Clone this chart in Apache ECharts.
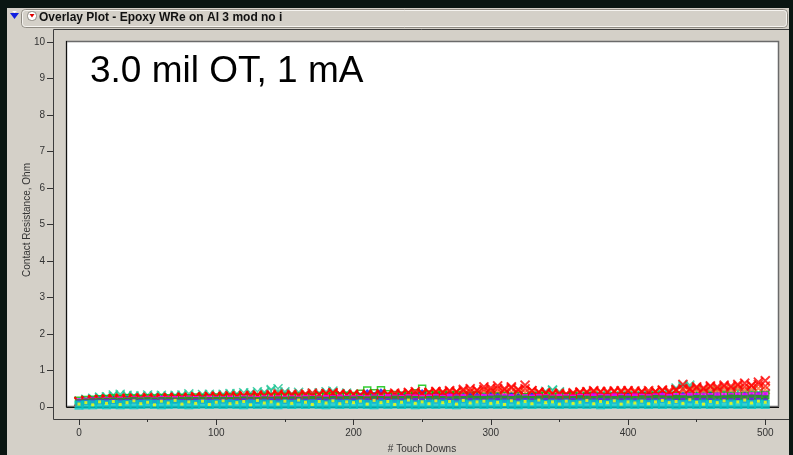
<!DOCTYPE html>
<html>
<head>
<meta charset="utf-8">
<script src="https://cdn.jsdelivr.net/npm/echarts@6/dist/echarts.min.js"></script>
<style>
html,body{margin:0;padding:0;background:#0a1612;}
#chart{width:793px;height:455px;}
</style>
</head>
<body>
<div id="chart"></div>
<script>
// ---- data (Ohm), one value every 5 touch downs, 0..500 ----
const touchDownStep = 5;
const xTickValues = [0, 100, 200, 300, 400, 500];
const xMinorTickValues = [50, 150, 250, 350, 450];
const xTickLabels = ['0', '100', '200', '300', '400', '500'];
const yTickLabels = ['0','1','2','3','4','5','6','7','8','9','10'];

const tealY = [0.15,0.20,0.22,0.25,0.28,
 0.33,0.30,0.32,0.28,0.30,0.27,0.31,0.26,
 0.30,0.28,0.33,0.30,0.27,0.34,0.31,0.29,
 0.35,0.32,0.36,0.30,0.38,0.33,0.40,0.45,0.50,0.42,
 0.36,0.33,0.30,0.38,0.35,0.42,0.40,0.37,0.33,0.35,
 0.30,0.33,0.28,0.35,0.30,0.27,0.32,0.30,0.28,0.31,
 0.30,0.26,0.33,0.28,0.30,0.27,0.31,0.29,0.26,0.30,
 0.28,0.31,0.27,0.30,0.26,0.29,0.33,0.38,0.45,0.42,
 0.35,0.28,0.25,0.30,0.27,0.32,0.29,0.26,0.30,0.28,
 0.31,0.27,0.30,0.35,0.33,0.40,0.48,0.58,0.55,0.45,
 0.42,0.38,0.45,0.40,0.36,0.43,0.38,0.41,0.37,0.35];

const tealY2 = [0.16,0.21,0.24,0.27,0.25,
 0.29,0.35,0.27,0.31,0.26,0.33,0.29,0.32,
 0.27,0.32,0.29,0.36,0.31,0.28,0.35,0.33,
 0.30,0.37,0.34,0.39,0.33,0.42,0.36,0.48,0.41,0.38,
 0.34,0.40,0.36,0.32,0.39,0.37,0.44,0.35,0.38,0.31,
 0.34,0.29,0.36,0.31,0.33,0.29,0.34,0.31,0.27,0.32,
 0.28,0.31,0.27,0.32,0.29,0.26,0.30,0.27,0.31,0.28,
 0.30,0.27,0.29,0.26,0.31,0.28,0.36,0.43,0.47,0.39,
 0.32,0.29,0.27,0.31,0.28,0.30,0.27,0.31,0.29,0.32,
 0.29,0.32,0.28,0.31,0.36,0.38,0.52,0.55,0.60,0.50,
 0.44,0.40,0.47,0.42,0.39,0.45,0.40,0.43,0.39,0.37];

const orangeX = [0.14,0.17,0.19,0.20,0.21,
 0.22,0.24,0.21,0.23,0.25,0.22,0.24,0.23,
 0.25,0.23,0.26,0.24,0.27,0.25,0.26,0.28,
 0.27,0.29,0.26,0.28,0.30,0.27,0.29,0.31,0.28,0.30,
 0.29,0.31,0.28,0.30,0.32,0.29,0.31,0.30,0.33,0.31,
 0.30,0.32,0.34,0.31,0.35,0.33,0.36,0.34,0.37,0.35,
 0.38,0.36,0.40,0.37,0.42,0.39,0.41,0.38,0.43,0.40,
 0.42,0.39,0.41,0.38,0.40,0.36,0.38,0.35,0.37,0.34,
 0.36,0.33,0.38,0.40,0.37,0.41,0.39,0.42,0.40,0.38,
 0.41,0.39,0.42,0.40,0.44,0.41,0.43,0.45,0.42,0.46,
 0.44,0.47,0.45,0.48,0.46,0.50,0.47,0.49,0.51,0.48];

const greenSquares = [0.17,0.19,0.20,0.21,0.22,
 0.23,0.22,0.24,0.23,0.22,0.24,0.23,0.25,
 0.24,0.23,0.25,0.24,0.26,0.25,0.24,0.26,
 0.25,0.27,0.26,0.25,0.27,0.26,0.28,0.27,0.26,0.28,
 0.27,0.29,0.28,0.27,0.29,0.28,0.30,0.29,0.31,0.30,
 0.36,0.45,0.38,0.46,0.35,0.33,0.31,0.32,0.38,0.50,
 0.34,0.31,0.33,0.30,0.32,0.29,0.31,0.30,0.28,0.30,
 0.29,0.31,0.28,0.30,0.27,0.29,0.28,0.30,0.27,0.29,
 0.28,0.30,0.27,0.29,0.28,0.26,0.28,0.27,0.29,0.28,
 0.27,0.29,0.28,0.30,0.27,0.29,0.31,0.28,0.30,0.29,
 0.28,0.30,0.29,0.31,0.28,0.30,0.29,0.31,0.30,0.32];

const blueDiamonds = [0.16,0.18,0.19,0.20,0.20,
 0.21,0.20,0.22,0.21,0.20,0.22,0.21,0.23,
 0.22,0.21,0.23,0.22,0.24,0.23,0.22,0.24,
 0.23,0.25,0.24,0.23,0.25,0.24,0.26,0.25,0.24,0.26,
 0.25,0.27,0.26,0.25,0.27,0.26,0.28,0.27,0.29,0.28,
 0.30,0.40,0.32,0.42,0.31,0.30,0.33,0.31,0.35,0.40,
 0.32,0.35,0.30,0.33,0.31,0.29,0.32,0.30,0.28,0.31,
 0.30,0.28,0.31,0.29,0.27,0.30,0.28,0.31,0.29,0.27,
 0.30,0.28,0.33,0.35,0.32,0.30,0.28,0.31,0.29,0.30,
 0.35,0.37,0.32,0.30,0.33,0.31,0.29,0.32,0.30,0.31,
 0.29,0.32,0.30,0.28,0.31,0.29,0.32,0.30,0.33,0.31];

const redX = [0.15,0.18,0.20,0.20,0.22,
 0.22,0.21,0.23,0.22,0.24,0.23,0.22,0.25,
 0.24,0.26,0.25,0.24,0.27,0.26,0.28,0.27,
 0.28,0.27,0.29,0.30,0.28,0.31,0.30,0.32,0.33,0.31,
 0.32,0.30,0.33,0.31,0.34,0.36,0.38,0.35,0.33,0.34,
 0.32,0.35,0.33,0.36,0.34,0.38,0.36,0.40,0.42,0.38,
 0.40,0.43,0.41,0.45,0.42,0.48,0.50,0.46,0.55,0.52,
 0.58,0.50,0.55,0.48,0.60,0.45,0.40,0.38,0.36,0.35,
 0.33,0.37,0.40,0.42,0.45,0.43,0.40,0.44,0.42,0.45,
 0.40,0.43,0.38,0.42,0.45,0.40,0.48,0.62,0.50,0.55,
 0.52,0.58,0.55,0.60,0.57,0.62,0.65,0.58,0.68,0.72];

const redX2 = [0.14,0.17,0.19,0.21,0.20,
 0.23,0.24,0.22,0.25,0.23,0.26,0.24,0.23,
 0.26,0.25,0.27,0.26,0.28,0.27,0.29,0.30,
 0.29,0.31,0.30,0.32,0.31,0.33,0.32,0.34,0.36,0.33,
 0.35,0.34,0.36,0.38,0.35,0.37,0.39,0.36,0.34,0.35,
 0.33,0.31,0.34,0.32,0.35,0.33,0.36,0.38,0.35,0.37,
 0.39,0.41,0.38,0.42,0.40,0.44,0.42,0.45,0.48,0.46,
 0.50,0.47,0.52,0.46,0.50,0.44,0.41,0.39,0.37,0.38,
 0.36,0.39,0.41,0.38,0.42,0.40,0.43,0.41,0.45,0.43,
 0.44,0.41,0.45,0.43,0.47,0.44,0.46,0.50,0.47,0.52,
 0.49,0.55,0.51,0.56,0.53,0.58,0.55,0.60,0.62,0.57];

const magentaSq = [0.15,0.17,0.18,0.18,0.19,
 0.19,0.20,0.19,0.21,0.20,0.21,0.20,0.22,
 0.21,0.22,0.21,0.23,0.22,0.21,0.23,0.22,
 0.22,0.23,0.22,0.24,0.23,0.22,0.24,0.23,0.24,0.23,
 0.24,0.23,0.25,0.24,0.23,0.25,0.24,0.26,0.25,0.24,
 0.25,0.24,0.26,0.25,0.27,0.26,0.25,0.27,0.26,0.25,
 0.26,0.27,0.25,0.28,0.26,0.27,0.25,0.26,0.28,0.27,
 0.26,0.28,0.27,0.25,0.27,0.26,0.28,0.27,0.26,0.28,
 0.27,0.26,0.28,0.27,0.29,0.28,0.27,0.29,0.28,0.27,
 0.29,0.28,0.27,0.29,0.30,0.28,0.30,0.29,0.31,0.30,
 0.31,0.30,0.32,0.31,0.30,0.32,0.31,0.33,0.32,0.34];

const greenLine = [0.13,0.15,0.16,0.17,0.17,
 0.18,0.17,0.18,0.19,0.18,0.19,0.18,0.19,
 0.19,0.18,0.19,0.20,0.19,0.20,0.19,0.20,
 0.20,0.19,0.20,0.21,0.20,0.19,0.21,0.20,0.21,0.20,
 0.21,0.20,0.21,0.22,0.21,0.20,0.22,0.21,0.22,0.21,
 0.22,0.21,0.23,0.22,0.21,0.23,0.22,0.23,0.22,0.21,
 0.22,0.23,0.22,0.21,0.23,0.22,0.24,0.23,0.22,0.23,
 0.24,0.23,0.22,0.24,0.23,0.22,0.23,0.24,0.23,0.22,
 0.23,0.22,0.24,0.23,0.22,0.24,0.23,0.22,0.24,0.23,
 0.22,0.24,0.23,0.25,0.24,0.23,0.25,0.24,0.23,0.25,
 0.24,0.25,0.23,0.24,0.26,0.25,0.24,0.26,0.25,0.24];

const purpleSq = [0.12,0.13,0.14,0.14,0.15,
 0.15,0.14,0.15,0.16,0.15,0.14,0.15,0.16,
 0.15,0.16,0.15,0.14,0.16,0.15,0.16,0.15,
 0.16,0.15,0.16,0.17,0.16,0.15,0.16,0.17,0.16,0.15,
 0.16,0.17,0.16,0.15,0.17,0.16,0.17,0.16,0.15,0.17,
 0.16,0.17,0.16,0.18,0.17,0.16,0.17,0.16,0.18,0.17,
 0.17,0.16,0.18,0.17,0.16,0.17,0.18,0.17,0.16,0.17,
 0.18,0.17,0.16,0.17,0.18,0.17,0.16,0.18,0.17,0.16,
 0.17,0.18,0.17,0.16,0.17,0.18,0.17,0.16,0.17,0.18,
 0.17,0.16,0.18,0.17,0.18,0.17,0.16,0.18,0.17,0.18,
 0.18,0.17,0.16,0.18,0.17,0.18,0.17,0.19,0.18,0.17];

const cyanSq = [0.05,0.06,0.06,0.07,0.06,
 0.07,0.06,0.07,0.06,0.07,0.08,0.07,0.06,
 0.07,0.08,0.07,0.06,0.07,0.08,0.07,0.08,
 0.07,0.08,0.07,0.06,0.08,0.07,0.08,0.07,0.06,0.08,
 0.07,0.08,0.07,0.08,0.07,0.06,0.08,0.07,0.08,0.07,
 0.08,0.07,0.06,0.08,0.07,0.08,0.07,0.08,0.06,0.07,
 0.08,0.07,0.08,0.07,0.06,0.08,0.07,0.08,0.07,0.08,
 0.07,0.08,0.07,0.06,0.08,0.07,0.08,0.07,0.08,0.07,
 0.08,0.07,0.08,0.07,0.08,0.06,0.07,0.08,0.07,0.08,
 0.07,0.08,0.07,0.08,0.07,0.08,0.06,0.07,0.08,0.07,
 0.08,0.07,0.08,0.07,0.08,0.07,0.08,0.07,0.08,0.07];

const yellowDots = [0.08,0.12,0.06,0.14,0.10,
 0.15,0.07,0.12,0.17,0.09,0.13,0.06,0.16,
 0.11,0.18,0.08,0.14,0.10,0.16,0.07,0.13,
 0.17,0.09,0.12,0.15,0.06,0.18,0.11,0.14,0.08,0.16,
 0.10,0.19,0.13,0.07,0.15,0.11,0.17,0.09,0.14,0.12,
 0.16,0.08,0.18,0.12,0.15,0.07,0.13,0.19,0.10,0.14,
 0.09,0.17,0.12,0.15,0.08,0.18,0.11,0.14,0.16,0.10,
 0.13,0.07,0.17,0.11,0.15,0.09,0.19,0.12,0.14,0.08,
 0.16,0.10,0.13,0.18,0.09,0.15,0.12,0.17,0.08,0.14,
 0.11,0.16,0.09,0.14,0.18,0.12,0.15,0.10,0.20,0.13,
 0.08,0.15,0.12,0.17,0.10,0.14,0.19,0.11,0.16,0.13];

// ---- build ----
function pairs(vals){ return vals.map((v,i)=>[i*touchDownStep, v]); }

const X_PATH = 'path://M0,0L10,10M10,0L0,10';
const Y_PATH = 'path://M0,0L5,5L10,0M5,5L5,10';

function strokeSeries(name, vals, color, symbol, size, width){
  return {type:'scatter', name, xAxisIndex:0, yAxisIndex:0, data:pairs(vals), symbol, symbolSize:size, silent:true,
    itemStyle:{color:'rgba(0,0,0,0)', borderColor:color, borderWidth:width||1.4}};
}
function fillSeries(name, vals, color, symbol, size){
  return {type:'scatter', name, xAxisIndex:0, yAxisIndex:0, data:pairs(vals), symbol, symbolSize:size, silent:true,
    itemStyle:{color:color}};
}

const series = [
  strokeSeries('teal', tealY, '#18c08e', Y_PATH, 9, 1.5),
  strokeSeries('teal2', tealY2, '#22c898', Y_PATH, 9, 1.5),
  strokeSeries('orange', orangeX, '#ff6a28', X_PATH, 9, 1.6),
  strokeSeries('greenSq', greenSquares, '#00c000', 'rect', 7, 1.5),
  fillSeries('blue', blueDiamonds, '#1010ff', 'diamond', 7),
  strokeSeries('red2', redX2, '#ff1a10', X_PATH, 9, 1.9),
  strokeSeries('red', redX, '#ff0000', X_PATH, 9, 1.9),
  fillSeries('magenta', magentaSq, '#ff00ff', 'rect', 6),
  fillSeries('green', greenLine, '#00b000', 'rect', 6),
  fillSeries('purple', purpleSq, '#7a10ff', 'rect', 5),
  fillSeries('cyan', cyanSq, '#00c8c8', 'rect', 9),
  fillSeries('yellow', yellowDots, '#ffff00', 'rect', 3)
];

const FONT = '"Liberation Sans", Arial, sans-serif';
const tickStyle = {color:'#333', width:1};
const chart = echarts.init(document.getElementById('chart'), null, {renderer:'canvas'});
chart.setOption({
  animation:false,
  backgroundColor:'#0a1612',
  graphic:[
    {type:'rect', z:-10, shape:{x:7,y:8,width:782,height:447}, style:{fill:'#d4d0c8'}},
    {type:'rect', z:-9, shape:{x:21.5,y:9.5,width:766,height:18,r:4}, style:{fill:'#d4d0c8', stroke:'#8e8a82', lineWidth:1}},
    {type:'rect', z:-9, shape:{x:22.5,y:10.5,width:764,height:16,r:3}, style:{fill:'none', stroke:'#f6f4f0', lineWidth:1}},
    {type:'polygon', z:-8, shape:{points:[[10,13],[19,13],[14.5,19]]}, style:{fill:'#1020e0'}},
    {type:'polygon', z:-8, shape:{points:[[12,11],[17,11],[14.5,13]]}, style:{fill:'#ffffff'}},
    {type:'rect', z:-8, shape:{x:27.5,y:11.5,width:9,height:9,r:4}, style:{fill:'#ffffff', stroke:'#8e8a82', lineWidth:1}},
    {type:'polygon', z:-7, shape:{points:[[29.5,14],[34.5,14],[32,17.5]]}, style:{fill:'#e00000'}},
    {type:'text', z:-7, style:{x:39, y:18, text:'Overlay Plot - Epoxy WRe on Al 3 mod no i', fill:'#111', font:'bold 12px '+FONT, verticalAlign:'middle'}},
    // outer frame
    {type:'polyline', z:-8, shape:{points:[[789,29.5],[53.5,29.5],[53.5,419.5],[789,419.5]]}, style:{stroke:'#3c3c3c', lineWidth:1, fill:'none'}},
    // plot area
    {type:'rect', z:-7, shape:{x:66.5,y:41.5,width:712,height:365}, style:{fill:'#ffffff', stroke:'#6a6a6a', lineWidth:1.5}},
    {type:'polyline', z:-6, shape:{points:[[66.5,41],[66.5,407.5],[779,407.5]]}, style:{stroke:'#111', lineWidth:1, fill:'none'}},
    {type:'text', z:20, style:{x:90, y:72, text:'3.0 mil OT, 1 mA', fill:'#000', font:'37px '+FONT, verticalAlign:'middle'}},
    {type:'text', z:20, style:{x:422, y:449, text:'# Touch Downs', fill:'#333', font:'10px '+FONT, align:'center', verticalAlign:'middle'}},
    {type:'text', z:20, x:27.5, y:220, rotation:Math.PI/2, style:{x:0, y:0, text:'Contact Resistance, Ohm', fill:'#333', font:'10px '+FONT, align:'center', verticalAlign:'middle'}}
  ],
  grid:[
    {left:79, right:14, top:42, bottom:48},   // data
    {left:53, right:14, top:42, bottom:48},   // y axis frame
    {left:79, right:14, top:42, bottom:36}    // x axis frame
  ],
  xAxis:[
    {gridIndex:0, type:'value', min:0, max:510, show:false},
    {gridIndex:1, type:'value', min:0, max:510, show:false},
    {gridIndex:2, type:'value', min:0, max:510, position:'bottom',
      axisLine:{show:false},
      axisTick:{show:true, length:6, lineStyle:tickStyle, customValues:xTickValues},
      splitLine:{show:false},
      axisLabel:{margin:9, color:'#333', fontSize:10, fontFamily:FONT, customValues:xTickValues,
        formatter:(v)=>xTickLabels[xTickValues.indexOf(v)] || ''}},
    {gridIndex:2, type:'value', min:0, max:510, position:'bottom',
      axisLine:{show:false},
      axisTick:{show:true, length:3, lineStyle:tickStyle, customValues:xMinorTickValues},
      splitLine:{show:false},
      axisLabel:{show:false}}
  ],
  yAxis:[
    {gridIndex:0, type:'value', min:0, max:10, show:false},
    {gridIndex:1, type:'value', min:0, max:10, interval:1,
      axisLine:{show:false},
      axisTick:{show:true, length:6, lineStyle:tickStyle},
      splitLine:{show:false},
      axisLabel:{margin:8, color:'#333', fontSize:10, fontFamily:FONT,
        formatter:(v)=>yTickLabels[v] || ''}},
    {gridIndex:2, type:'value', min:0, max:10, show:false}
  ],
  series: series
});
</script>
</body>
</html>
